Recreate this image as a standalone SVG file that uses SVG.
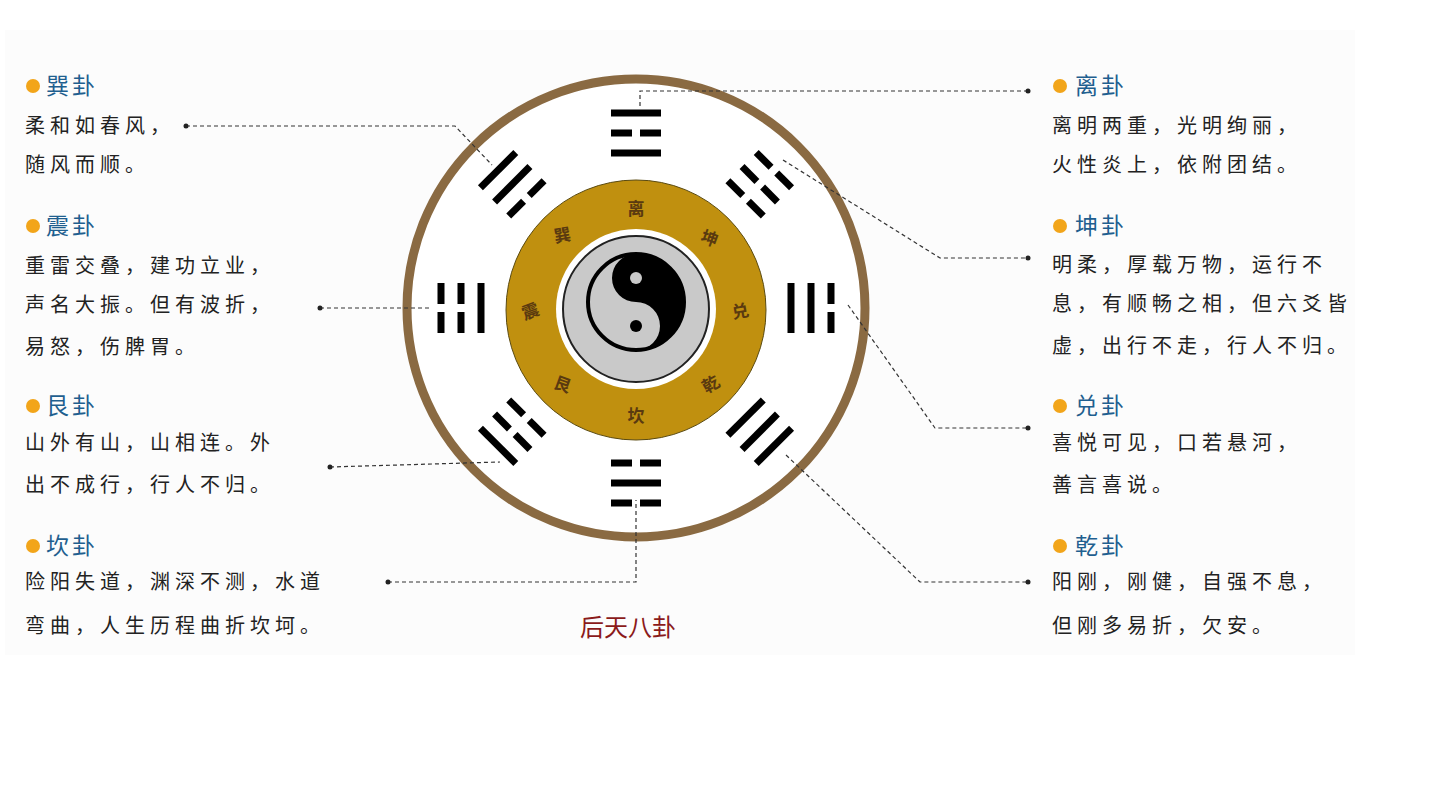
<svg xmlns="http://www.w3.org/2000/svg" width="1431" height="798" viewBox="0 0 1431 798">
<style>
.t{font-family:"Noto Sans CJK SC","Noto Sans",sans-serif;font-size:20px;fill:#222;letter-spacing:5px}
.h{font-family:"Noto Sans CJK SC",sans-serif;font-size:23px;fill:#1f5f8f;letter-spacing:3px}
.g{font-family:"Noto Sans CJK SC",sans-serif;font-size:17px;font-weight:bold;fill:#5a3a10;text-anchor:middle;dominant-baseline:central}
.c{fill:none;stroke:#333;stroke-width:1.2;stroke-dasharray:4 3}
.b{fill:#f2a51a}
.bar{fill:#000}
</style>
<defs>
<rect id="S" x="-25" y="-3.5" width="50" height="7"/>
<g id="B"><rect x="-25" y="-3.5" width="21" height="7"/><rect x="4" y="-3.5" width="21" height="7"/></g>
</defs>
<rect x="5" y="30" width="1350" height="625" fill="#fcfcfc"/>
<g id="wheel">
<circle cx="636" cy="308" r="229" fill="#fff" stroke="#8a6a42" stroke-width="9"/>
<circle cx="636" cy="310" r="130" fill="#c0900f" stroke="#5a4a10" stroke-width="1"/>
<circle cx="636" cy="309" r="80" fill="#fff"/>
<circle cx="636" cy="309" r="73" fill="#c9c9c9" stroke="#222" stroke-width="2"/>
<g transform="translate(636,302)">
<circle r="48" fill="#c9c9c9" stroke="#000" stroke-width="4"/>
<path d="M0,-48 A48,48 0 0 1 0,48 A24,24 0 0 0 0,0 A24,24 0 0 1 0,-48 Z" fill="#000"/>
<circle cy="-24" r="6" fill="#c9c9c9"/>
<circle cy="24" r="6" fill="#000"/>
</g>
<text class="g" x="636" y="207">离</text>
<text class="g" x="710" y="237" transform="rotate(20 710 237)">坤</text>
<text class="g" x="740" y="310" transform="rotate(-10 740 310)">兑</text>
<text class="g" x="710" y="383" transform="rotate(-30 710 383)">乾</text>
<text class="g" x="636" y="414">坎</text>
<text class="g" x="563" y="383" transform="rotate(20 563 383)">艮</text>
<text class="g" x="530" y="310" transform="rotate(-20 530 310)">震</text>
<text class="g" x="562" y="234" transform="rotate(-10 562 234)">巽</text>
</g>
<g id="trigrams" class="bar">
<g id="li" transform="translate(636,308) rotate(0) translate(0,-175)"><use href="#S" y="-20"/><use href="#B" y="0"/><use href="#S" y="20"/></g>
<g id="kun" transform="translate(636,308) rotate(45) translate(0,-175)"><use href="#B" y="-20"/><use href="#B" y="0"/><use href="#B" y="20"/></g>
<g id="dui" transform="translate(636,308) rotate(90) translate(0,-175)"><use href="#B" y="-20"/><use href="#S" y="0"/><use href="#S" y="20"/></g>
<g id="qian" transform="translate(636,308) rotate(135) translate(0,-175)"><use href="#S" y="-20"/><use href="#S" y="0"/><use href="#S" y="20"/></g>
<g id="kan" transform="translate(636,308) rotate(180) translate(0,-175)"><use href="#B" y="-20"/><use href="#S" y="0"/><use href="#B" y="20"/></g>
<g id="gen" transform="translate(636,308) rotate(225) translate(0,-175)"><use href="#S" y="-20"/><use href="#B" y="0"/><use href="#B" y="20"/></g>
<g id="zhen" transform="translate(636,308) rotate(270) translate(0,-175)"><use href="#B" y="-20"/><use href="#B" y="0"/><use href="#S" y="20"/></g>
<g id="xun" transform="translate(636,308) rotate(315) translate(0,-175)"><use href="#S" y="-20"/><use href="#S" y="0"/><use href="#B" y="20"/></g>
</g>
<g id="connectors">
<path class="c" d="M186,126 H455 L492,165"/>
<path class="c" d="M320,308 H430"/>
<path class="c" d="M330,467 L500,462"/>
<path class="c" d="M388,582 H636 V500"/>
<path class="c" d="M640,106 V91 H1028"/>
<path class="c" d="M783,160 L940,258 H1028"/>
<path class="c" d="M848,305 L935,428 H1028"/>
<path class="c" d="M786,455 L920,582 H1028"/>
<g fill="#222"><circle cx="186" cy="126" r="2.5"/><circle cx="320" cy="308" r="2.5"/><circle cx="330" cy="467" r="2.5"/><circle cx="388" cy="582" r="2.5"/><circle cx="1028" cy="91" r="2.5"/><circle cx="1028" cy="258" r="2.5"/><circle cx="1028" cy="428" r="2.5"/><circle cx="1028" cy="582" r="2.5"/></g>
</g>
<g id="n-xun"><circle class="b" cx="33" cy="86" r="7"/><text class="h" x="46" y="94">巽卦</text><text class="t" x="25" y="133">柔和如春风，</text><text class="t" x="25" y="172">随风而顺。</text></g>
<g id="n-zhen"><circle class="b" cx="33" cy="226" r="7"/><text class="h" x="46" y="234">震卦</text><text class="t" x="25" y="273">重雷交叠，建功立业，</text><text class="t" x="25" y="312">声名大振。但有波折，</text><text class="t" x="25" y="354">易怒，伤脾胃。</text></g>
<g id="n-gen"><circle class="b" cx="33" cy="406" r="7"/><text class="h" x="46" y="414">艮卦</text><text class="t" x="25" y="450">山外有山，山相连。外</text><text class="t" x="25" y="492">出不成行，行人不归。</text></g>
<g id="n-kan"><circle class="b" cx="33" cy="546" r="7"/><text class="h" x="46" y="554">坎卦</text><text class="t" x="25" y="589">险阳失道，渊深不测，水道</text><text class="t" x="25" y="633">弯曲，人生历程曲折坎坷。</text></g>
<g id="n-li"><circle class="b" cx="1060" cy="86" r="7"/><text class="h" x="1075" y="94">离卦</text><text class="t" x="1052" y="133">离明两重，光明绚丽，</text><text class="t" x="1052" y="172">火性炎上，依附团结。</text></g>
<g id="n-kun"><circle class="b" cx="1060" cy="226" r="7"/><text class="h" x="1075" y="234">坤卦</text><text class="t" x="1052" y="272">明柔，厚载万物，运行不</text><text class="t" x="1052" y="311">息，有顺畅之相，但六爻皆</text><text class="t" x="1052" y="353">虚，出行不走，行人不归。</text></g>
<g id="n-dui"><circle class="b" cx="1060" cy="406" r="7"/><text class="h" x="1075" y="414">兑卦</text><text class="t" x="1052" y="450">喜悦可见，口若悬河，</text><text class="t" x="1052" y="492">善言喜说。</text></g>
<g id="n-qian"><circle class="b" cx="1060" cy="546" r="7"/><text class="h" x="1075" y="554">乾卦</text><text class="t" x="1052" y="589">阳刚，刚健，自强不息，</text><text class="t" x="1052" y="633">但刚多易折，欠安。</text></g>
<text x="628" y="636" text-anchor="middle" font-family="Noto Sans CJK SC,sans-serif" font-size="24" fill="#8b1a1a">后天八卦</text>
</svg>
